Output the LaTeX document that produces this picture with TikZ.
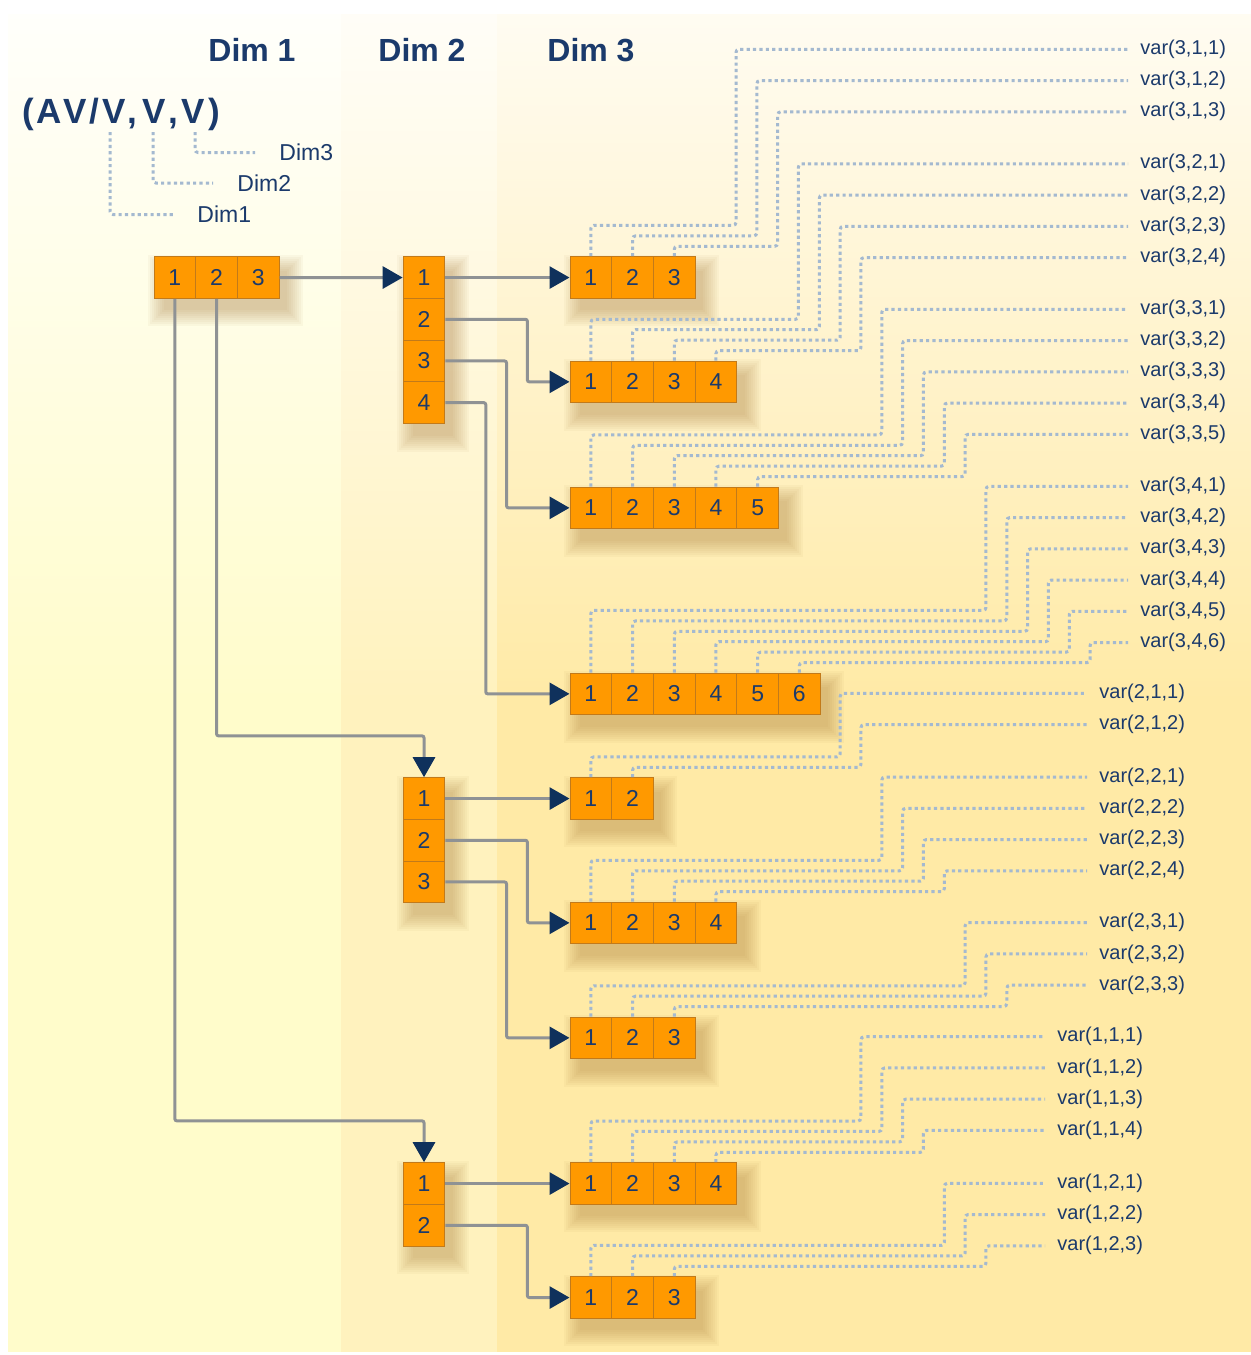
\documentclass[tikz,border=0pt]{standalone}
\usepackage{fontspec}
\setmainfont{Liberation Sans}
\usetikzlibrary{arrows.meta}
\definecolor{dimNavy}{HTML}{1B3A6B}
\definecolor{tipNavy}{HTML}{0F315C}
\definecolor{linkGray}{HTML}{8F9294}
\definecolor{dotBlue}{HTML}{A4B9D0}
\definecolor{cellOrange}{HTML}{FF9900}
\definecolor{cellEdge}{HTML}{C27A1A}
\definecolor{shadowBrown}{HTML}{9C6A24}
\definecolor{bandL}{HTML}{FFFCCB}
\definecolor{bandM}{HTML}{FFF2BE}
\definecolor{bandR}{HTML}{FFEAA6}

\begin{document}
\begin{tikzpicture}[x=0.5pt,y=-0.5pt]
  \tikzset{
    cell/.style={draw=cellEdge,fill=cellOrange,line width=0.5pt,minimum size=20.85pt,inner sep=0pt,text=dimNavy,font=\fontsize{11.5}{13}\selectfont},
    shadowlayer/.style={fill=shadowBrown,opacity=0.045},
    link/.style={draw=linkGray,line width=1.5pt,rounded corners=1pt,-{Triangle[length=10pt,width=11pt,color=tipNavy]}},
    dotline/.style={draw=dotBlue,line width=1.5pt,dash pattern=on 1.6pt off 1.6pt,rounded corners=1.5pt},
    varlbl/.style={anchor=west,inner xsep=6pt,inner ysep=0pt,text=dimNavy,font=\fontsize{10}{12}\selectfont},
    head/.style={text=dimNavy,inner sep=0pt,font=\fontsize{16}{18}\selectfont\bfseries},
    dimtag/.style={anchor=west,inner xsep=12pt,inner ysep=0pt,text=dimNavy,font=\fontsize{11.5}{13}\selectfont}
  }
  \useasboundingbox (0,0) rectangle (1251,1355);
  \shade[top color=bandL!8!white,bottom color=bandL] (8,14) rectangle (341,700);
  \fill[bandL] (8,699) rectangle (341,1352);
  \shade[top color=bandM!12!white,bottom color=bandM] (341,14) rectangle (497,700);
  \fill[bandM] (341,699) rectangle (497,1352);
  \shade[top color=bandR!15!white,bottom color=bandR] (497,14) rectangle (1251,700);
  \fill[bandR] (497,699) rectangle (1251,1352);

  \node[head] (h1) at (252,49.7) {Dim 1};
  \node[head] (h2) at (422,49.7) {Dim 2};
  \node[head] (h3) at (591,49.7) {Dim 3};

  \node[anchor=base west,inner sep=0pt,text=dimNavy,font=\fontsize{17.5}{20}\selectfont\bfseries] (fmt) at (22,123)
    {(\kern1pt A\kern1pt V\kern1.5pt/\kern1.5pt V\kern1pt,\kern2.5pt V\kern1.5pt,\kern1.5pt V\kern2pt)};
  \coordinate (lead1) at (110,132);
  \coordinate (lead2) at (153,132);
  \coordinate (lead3) at (195,132);
  \node[dimtag] (dim1) at (173,214.5) {Dim1};
  \node[dimtag] (dim2) at (213,183) {Dim2};
  \node[dimtag] (dim3) at (255,152.5) {Dim3};
  \draw[dotline] (lead1) |- (dim1.west);
  \draw[dotline] (lead2) |- (dim2.west);
  \draw[dotline] (lead3) |- (dim3.west);

  \foreach \g in {0,2,...,16}
    \fill[shadowlayer] (164-\g,271-\g) rectangle (287+\g,310+\g);
  \foreach \k in {1,2,3}
    \node[cell] (d-\k) at ({154+41.7*(\k-0.5)},277.5) {\k};

  \foreach \i/\n/\yt in {3/4/256.7,2/3/777.7,1/2/1162.7}{
    \foreach \g in {0,2,...,16}
      \fill[shadowlayer] (413-\g,{\yt+14-\g}) rectangle (453+\g,{\yt+41.7*\n+12+\g});
    \foreach \k in {1,...,\n}
      \node[cell] (c\i-\k) at (424,{\yt+20.85+41.7*(\k-1)}) {\k};
  }

  \foreach \i/\j/\n/\yt/\m/\ly/\lx in {3/1/3/256.7/0/49.3/1128,3/2/4/361/3/163.8/1128,3/3/5/487/7/309.3/1128,
      3/4/6/673/12/486.3/1128,2/1/2/777.7/5/693.3/1087,2/2/4/902/7/777/1087,2/3/3/1017/11/922.7/1087,
      1/1/4/1162.7/6/1036.7/1045,1/2/3/1276.7/10/1183.3/1045}{
    \foreach \g in {0,2,...,16}
      \fill[shadowlayer] (580-\g,{\yt+14-\g}) rectangle ({578+41.7*\n+\g},{\yt+53.7+\g});
    \foreach \k in {1,...,\n}{
      \node[cell] (r\i\j-\k) at ({570+41.7*(\k-0.5)},{\yt+20.85}) {\k};
      \node[varlbl] (v\i\j\k) at (\lx,{\ly+31.25*(\k-1)}) {var(\i,\j,\k)};
      \draw[dotline] (r\i\j-\k.north) |- ({736+20.83*(\m+\k-1)},{\yt-10.42*(\n+1-\k)}) |- (v\i\j\k.west);
    }
  }

  \draw[link] (d-3.east) -- (c3-1.west);
  \draw[link] (d-2.south) -- ++(0,437) -| (c2-1.north);
  \draw[link] (d-1.south) -- ++(0,822) -| (c1-1.north);

  \foreach \i/\n in {3/4,2/3,1/2}{
    \draw[link] (c\i-1.east) -- (r\i1-1.west);
    \foreach \k in {2,...,\n}
      \draw[link] (c\i-\k.east) -- ++({82-20.8*(\k-2)},0) |- (r\i\k-1.west);
  }
\end{tikzpicture}
\end{document}
